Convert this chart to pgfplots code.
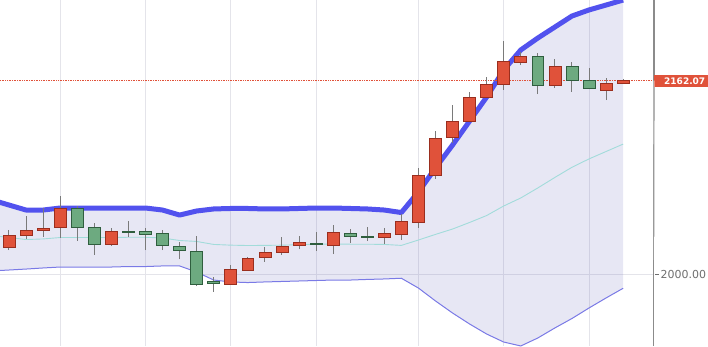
\documentclass[border=0pt]{standalone}
\usepackage{fontspec}
\setmainfont{Liberation Sans}
\newfontfamily\dejavu{DejaVu Sans}
\usepackage{pgfplots}
\usepackage{pgfplotstable}
\pgfplotsset{compat=1.18}
\usepgfplotslibrary{fillbetween}
\definecolor{cred}{HTML}{E0523A}
\definecolor{credd}{HTML}{9A2E1E}
\definecolor{cgreen}{HTML}{6DAA80}
\definecolor{cgreend}{HTML}{2F5E3E}
\definecolor{bandup}{HTML}{5252EE}
\definecolor{bandlo}{HTML}{7A7AE6}
\definecolor{bandmid}{HTML}{A2DCDA}
\definecolor{wick}{HTML}{7A7A7A}
\definecolor{gridc}{HTML}{E4E4EA}
\definecolor{labgray}{HTML}{6E6E6E}

% idx, low, body bottom, body top, high, colour
\newcommand{\candle}[6]{%
\addplot[wick, line width=1pt] coordinates {(#1,#2) (#1,#5)};
\pgfmathsetmacro\xl{#1-0.35}\pgfmathsetmacro\xr{#1+0.35}%
\addplot[draw=#6d, fill=#6, line width=0.7pt] coordinates {(\xl,#3) (\xr,#3) (\xr,#4) (\xl,#4)} -- cycle;
}

\pgfplotstableread{
i up lo mid
0 2062.2 2002.8 2032.5
1 2058.0 2003.6 2030.8
2 2053.8 2004.4 2029.1
3 2053.8 2005.3 2029.6
4 2055.5 2006.1 2030.8
5 2055.5 2006.1 2030.8
6 2055.5 2006.1 2030.8
7 2055.5 2006.1 2030.8
8 2055.5 2006.5 2031.0
9 2055.5 2006.5 2031.0
10 2053.8 2007.0 2030.4
11 2049.6 2007.0 2028.3
12 2053.0 2001.9 2027.5
13 2054.7 1995.2 2025.0
14 2055.1 1993.6 2024.4
15 2055.1 1993.1 2024.1
16 2054.7 1993.6 2024.2
17 2054.7 1994.0 2024.4
18 2055.1 1994.4 2024.8
19 2055.5 1994.8 2025.2
20 2055.5 1995.2 2025.4
21 2055.1 1995.2 2025.2
22 2054.7 1995.7 2025.2
23 2053.8 1996.1 2025.0
24 2051.7 1996.7 2024.2
25 2068.9 1988.5 2028.7
26 2089.0 1977.7 2033.4
27 2108.2 1967.6 2037.9
28 2128.3 1958.4 2043.4
29 2148.4 1950.0 2049.2
30 2171.0 1943.3 2057.2
31 2187.8 1940.0 2063.9
32 2197.8 1946.7 2072.3
33 2207.0 1955.1 2081.1
34 2216.2 1963.0 2089.6
35 2221.3 1971.8 2096.6
36 2225.4 1980.2 2102.8
37 2229.6 1988.3 2109.0
}\bands

\begin{document}
\begin{tikzpicture}
\begin{axis}[
  at={(0,0)}, anchor=south west,
  width=654pt, height=346pt, scale only axis,
  xmin=0.4725, xmax=38.81,
  ymin=1939.98, ymax=2229.62,
  clip mode=individual,
  axis line style={draw=none},
  xtick={4,9,14,19,25,30,35}, xticklabels={}, x tick style={draw=none},
  xmajorgrids, ymajorgrids,
  grid style={draw=gridc, line width=0.8pt},
  ytick={2000}, yticklabel={2000.00},
  ytick pos=right, yticklabel pos=right,
  tick align=outside, major tick length=5pt,
  y tick style={draw=labgray, line width=0.8pt},
  yticklabel style={text=labgray, font=\dejavu\fontsize{11}{11}\selectfont, inner xsep=1.5pt},
]
\addplot[draw=none, name path=U] table[x=i,y=up]{\bands};
\addplot[draw=none, name path=L] table[x=i,y=lo]{\bands};
\addplot[fill={rgb,255:red,110;green,110;blue,190}, fill opacity=0.17] fill between[of=U and L];
\addplot[bandmid, line width=0.9pt] table[x=i,y=mid]{\bands};
\addplot[bandlo, line width=1pt] table[x=i,y=lo]{\bands};
\addplot[bandup, line width=5pt, line join=round] table[x=i,y=up]{\bands};
\addplot[cred, densely dotted, line width=0.7pt] coordinates {(0.4725,2162.07) (38.81,2162.07)};

\candle{1}{2020.3}{2022.9}{2032.9}{2037.1}{cred}
\candle{2}{2029.5}{2032.7}{2036.5}{2048.8}{cred}
\candle{3}{2031.5}{2037.1}{2038.8}{2055.5}{cred}
\candle{4}{2030.4}{2039.0}{2054.9}{2065.5}{cred}
\candle{5}{2028.1}{2039.0}{2054.9}{2057.2}{cgreen}
\candle{6}{2016.2}{2025.1}{2039.3}{2043.0}{cgreen}
\candle{7}{2023.7}{2025.4}{2035.7}{2038.8}{cred}
\candle{8}{2031.5}{2035.2}{2036.2}{2044.9}{cgreen}
\candle{9}{2020.3}{2033.7}{2036.0}{2038.8}{cgreen}
\candle{10}{2020.3}{2024.5}{2034.3}{2037.1}{cgreen}
\candle{11}{2012.6}{2019.8}{2023.7}{2027.3}{cgreen}
\candle{12}{1990.2}{1991.9}{2019.5}{2032.1}{cgreen}
\candle{13}{1985.4}{1992.7}{1994.4}{1997.5}{cgreen}
\candle{14}{1991.5}{1991.9}{2004.2}{2007.8}{cred}
\candle{15}{2003.3}{2003.6}{2013.4}{2014.7}{cred}
\candle{16}{2010.6}{2014.2}{2018.1}{2023.1}{cred}
\candle{17}{2016.2}{2018.1}{2023.7}{2031.0}{cred}
\candle{18}{2020.9}{2023.9}{2026.5}{2032.3}{cred}
\candle{19}{2019.8}{2025.0}{2025.8}{2035.2}{cgreen}
\candle{20}{2016.8}{2023.9}{2035.2}{2041.3}{cred}
\candle{21}{2026.0}{2031.5}{2034.3}{2037.7}{cgreen}
\candle{22}{2028.1}{2030.6}{2031.4}{2039.9}{cgreen}
\candle{23}{2025.4}{2030.6}{2034.3}{2038.5}{cred}
\candle{24}{2028.7}{2033.7}{2044.0}{2050.5}{cred}
\candle{25}{2039.0}{2043.2}{2082.5}{2088.7}{cred}
\candle{26}{2079.8}{2082.5}{2113.9}{2120.2}{cred}
\candle{27}{2110.2}{2114.7}{2128.3}{2141.7}{cred}
\candle{28}{2127.3}{2127.7}{2148.2}{2152.4}{cred}
\candle{29}{2147.8}{2148.2}{2159.1}{2164.9}{cred}
\candle{30}{2154.3}{2159.3}{2178.6}{2195.3}{cred}
\candle{31}{2175.2}{2177.7}{2182.2}{2186.3}{cred}
\candle{32}{2150.9}{2158.5}{2182.7}{2185.0}{cgreen}
\candle{33}{2156.2}{2158.5}{2174.1}{2180.0}{cred}
\candle{34}{2152.9}{2162.1}{2174.1}{2177.5}{cgreen}
\candle{35}{2155.0}{2155.4}{2162.4}{2172.5}{cgreen}
\candle{36}{2145.9}{2154.3}{2160.1}{2164.1}{cred}
\candle{37}{2159.7}{2159.9}{2162.1}{2163.2}{cred}

\draw[labgray!80, line width=1.2pt] (rel axis cs:1,0) -- (rel axis cs:1,1);
\node[fill=cred, text=white, font=\dejavu\bfseries\fontsize{9}{9}\selectfont, anchor=west, inner xsep=0pt, inner ysep=0pt, minimum height=12.3pt, minimum width=56pt, text depth=0pt, align=left] at (axis cs:38.81,2162.07) {\hspace{10pt}2162.07\hspace{10pt}};
\draw[white, line width=0.8pt] (axis cs:38.81,2162.07) -- ++(5pt,0);
\end{axis}
\pgfresetboundingbox
\useasboundingbox (0,0) rectangle (708pt,346pt);
\end{tikzpicture}
\end{document}
